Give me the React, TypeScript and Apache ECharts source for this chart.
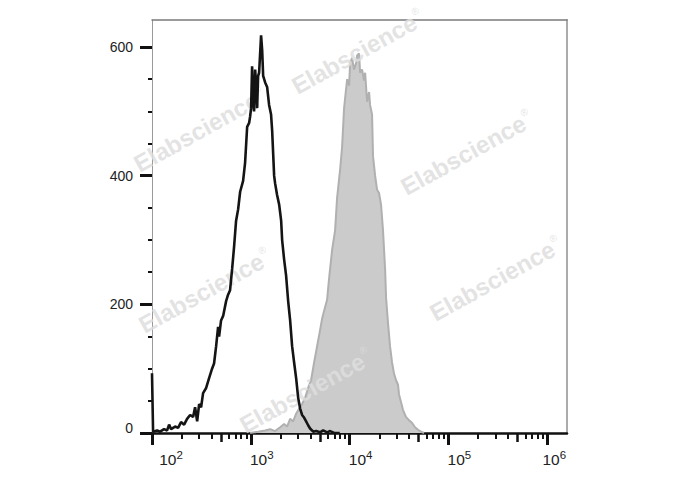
import React, { useEffect, useRef } from 'react';
import * as echarts from 'echarts';

// Axis ticks (x in decades, log10 of fluorescence intensity)
const yMajorTicks = [0, 200, 400, 600];
const yMinorTicks = [50, 100, 150, 250, 300, 350, 450, 500, 550];
const xDecades = [2, 3, 4, 5, 6];
const xMinorMultipliers = [2, 3, 4, 6, 7, 8, 9];
const xMidMultiplier = 5;

// Unstained control (black outline) : [log10 intensity, count]
const unstained: [number, number][] = [
  [2.0, 93], [2.011, 2], [2.052, 4], [2.082, 2], [2.122, 6], [2.153, 4], [2.173, 13], [2.193, 6],
  [2.234, 10], [2.264, 8], [2.294, 17], [2.325, 13], [2.355, 22], [2.386, 28], [2.416, 25], [2.436, 40],
  [2.457, 18], [2.477, 45], [2.497, 40], [2.517, 62], [2.548, 70], [2.577, 85], [2.608, 100], [2.628, 108],
  [2.649, 135], [2.669, 165], [2.679, 150], [2.699, 175], [2.72, 182], [2.75, 205], [2.77, 215], [2.79, 222],
  [2.811, 255], [2.831, 290], [2.851, 330], [2.872, 348], [2.892, 375], [2.922, 392], [2.942, 420], [2.963, 476],
  [2.983, 482], [2.993, 492], [3.003, 505], [3.013, 570], [3.023, 520], [3.033, 500], [3.044, 565], [3.054, 540],
  [3.064, 505], [3.074, 555], [3.084, 560], [3.104, 618], [3.115, 595], [3.125, 555], [3.145, 545], [3.165, 538],
  [3.185, 510], [3.205, 495], [3.216, 470], [3.226, 435], [3.236, 400], [3.246, 388], [3.266, 370], [3.287, 355],
  [3.307, 330], [3.317, 300], [3.337, 270], [3.357, 245], [3.378, 205], [3.398, 175], [3.418, 135], [3.438, 110],
  [3.459, 85], [3.479, 55], [3.499, 38], [3.519, 28], [3.539, 24], [3.56, 18], [3.58, 12], [3.6, 7],
  [3.631, 2], [3.661, 3], [3.701, 1], [3.732, 4], [3.772, 1], [3.803, 3], [3.843, 0], [3.9, 0],
];

// Stained sample (grey filled) : [log10 intensity, count]
const stained: [number, number][] = [
  [2.993, 0], [3.074, 2], [3.145, 4], [3.196, 6], [3.246, 3], [3.297, 9], [3.337, 14], [3.367, 10],
  [3.398, 22], [3.428, 18], [3.459, 30], [3.489, 38], [3.519, 45], [3.55, 55], [3.58, 70], [3.61, 82],
  [3.641, 110], [3.671, 135], [3.701, 160], [3.722, 178], [3.742, 190], [3.772, 207], [3.792, 240], [3.823, 285],
  [3.853, 315], [3.873, 365], [3.904, 410], [3.924, 445], [3.944, 505], [3.954, 520], [3.975, 550], [3.995, 540],
  [4.005, 575], [4.025, 583], [4.045, 565], [4.066, 575], [4.076, 587], [4.096, 590], [4.106, 560], [4.126, 565],
  [4.146, 548], [4.157, 560], [4.177, 515], [4.197, 530], [4.207, 510], [4.227, 495], [4.237, 430], [4.258, 400],
  [4.278, 378], [4.298, 373], [4.318, 355], [4.338, 315], [4.359, 255], [4.369, 210], [4.389, 170], [4.409, 135],
  [4.429, 110], [4.45, 92], [4.47, 82], [4.49, 75], [4.5, 60], [4.52, 48], [4.54, 36], [4.57, 25],
  [4.601, 20], [4.631, 16], [4.662, 9], [4.692, 5], [4.723, 2], [4.753, 0],
];

const watermarkText = 'Elabscience';
const watermarkSpots = [
  [358, 52], [200, 130], [467, 153], [205, 291], [496, 279], [306, 391],
];

const FONT = '"Liberation Sans", Arial, Helvetica, sans-serif';

export default function App() {
  const ref = useRef<HTMLDivElement>(null);

  useEffect(() => {
    if (!ref.current) return;
    const chart = echarts.init(ref.current, undefined, { renderer: 'svg' });

    const decadeStarts = xDecades.slice(0, -1);
    const minorTicks = decadeStarts.flatMap((d) => xMinorMultipliers.map((m) => d + Math.log10(m)));
    const midTicks = decadeStarts.map((d) => d + Math.log10(xMidMultiplier));

    const xBase = { type: 'value', min: 2, max: 6.2, splitLine: { show: false } };
    const yBase = { type: 'value', min: 0, max: 642, splitLine: { show: false } };

    const option: any = {
      animation: false,
      backgroundColor: '#ffffff',
      grid: { left: 152, right: 121, top: 20, bottom: 57, containLabel: false },
      xAxis: [
        {
          ...xBase,
          position: 'bottom',
          axisLine: { show: true, onZero: false, lineStyle: { color: '#111', width: 2.5 } },
          axisTick: { show: true, customValues: xDecades, length: 12, lineStyle: { color: '#111', width: 3 } },
          axisLabel: {
            show: true,
            customValues: xDecades,
            margin: 16,
            align: 'center',
            formatter: (v: number) => {
              const sp = v === 2 ? 'p2' : v === 6 ? 'p6' : 'p';
              return `{${sp}| }{b|10}{s|${v}}`;
            },
            rich: {
              b: { fontSize: 15.5, fontFamily: FONT, color: '#222' },
              s: { fontSize: 11.5, fontFamily: FONT, color: '#222', padding: [0, 0, 9, 0] },
              p: { width: 22, fontSize: 15 },
              p2: { width: 38, fontSize: 15 },
              p6: { width: 14, fontSize: 15 },
            },
          },
        },
        {
          ...xBase,
          position: 'bottom',
          axisLine: { show: false },
          axisTick: { show: true, customValues: minorTicks, length: 6, lineStyle: { color: '#111', width: 2 } },
          axisLabel: { show: false },
        },
        {
          ...xBase,
          position: 'bottom',
          axisLine: { show: false },
          axisTick: { show: true, customValues: midTicks, length: 9, lineStyle: { color: '#111', width: 2.5 } },
          axisLabel: { show: false },
        },
        {
          ...xBase,
          position: 'top',
          axisLine: { show: true, onZero: false, lineStyle: { color: '#7a7a7a', width: 1.5 } },
          axisTick: { show: false },
          axisLabel: { show: false },
        },
      ],
      yAxis: [
        {
          ...yBase,
          position: 'left',
          axisLine: { show: true, onZero: false, lineStyle: { color: '#9a9a9a', width: 1 } },
          axisTick: { show: true, customValues: yMajorTicks, length: 12, lineStyle: { color: '#111', width: 3 } },
          axisLabel: {
            show: true,
            customValues: yMajorTicks,
            margin: 19,
            fontSize: 14,
            fontFamily: FONT,
            color: '#222',
            formatter: (v: number) => (v === 0 ? '{z|0}' : String(v)),
            rich: { z: { fontSize: 14, fontFamily: FONT, color: '#222', padding: [0, 0, 10, 0] } },
          },
        },
        {
          ...yBase,
          position: 'left',
          axisLine: { show: false },
          axisTick: { show: true, customValues: yMinorTicks, length: 4, lineStyle: { color: '#111', width: 2 } },
          axisLabel: { show: false },
        },
        {
          ...yBase,
          position: 'right',
          axisLine: { show: true, onZero: false, lineStyle: { color: '#ababab', width: 2 } },
          axisTick: { show: false },
          axisLabel: { show: false },
        },
      ],
      series: [
        {
          type: 'line',
          name: 'Stained',
          xAxisIndex: 0,
          yAxisIndex: 0,
          data: stained,
          symbol: 'none',
          showSymbol: false,
          lineStyle: { color: '#b0b0b0', width: 2 },
          areaStyle: { color: '#cbcbcb', opacity: 1 },
          z: 1,
        },
        {
          type: 'line',
          name: 'Unstained',
          xAxisIndex: 0,
          yAxisIndex: 0,
          data: unstained,
          symbol: 'none',
          showSymbol: false,
          lineStyle: { color: '#141414', width: 2.6 },
          z: 3,
        },
      ],
      graphic: watermarkSpots.map(([x, y]) => ({
        type: 'text',
        x,
        y,
        rotation: (29 * Math.PI) / 180,
        z: 2,
        silent: true,
        style: {
          text: `{a|${watermarkText}}{r|®}`,
          align: 'center',
          verticalAlign: 'middle',
          rich: {
            a: { fontSize: 24, fontWeight: 'bold', fontFamily: FONT, fill: 'rgba(222,222,222,0.85)' },
            r: { fontSize: 10, fontFamily: FONT, fill: 'rgba(222,222,222,0.85)', padding: [0, 0, 16, 1] },
          },
        },
      })),
    };

    chart.setOption(option);
    return () => chart.dispose();
  }, []);

  return (
    <div
      ref={ref}
      style={{ position: 'fixed', left: 0, top: 0, width: 688, height: 490, background: '#fff' }}
    />
  );
}
